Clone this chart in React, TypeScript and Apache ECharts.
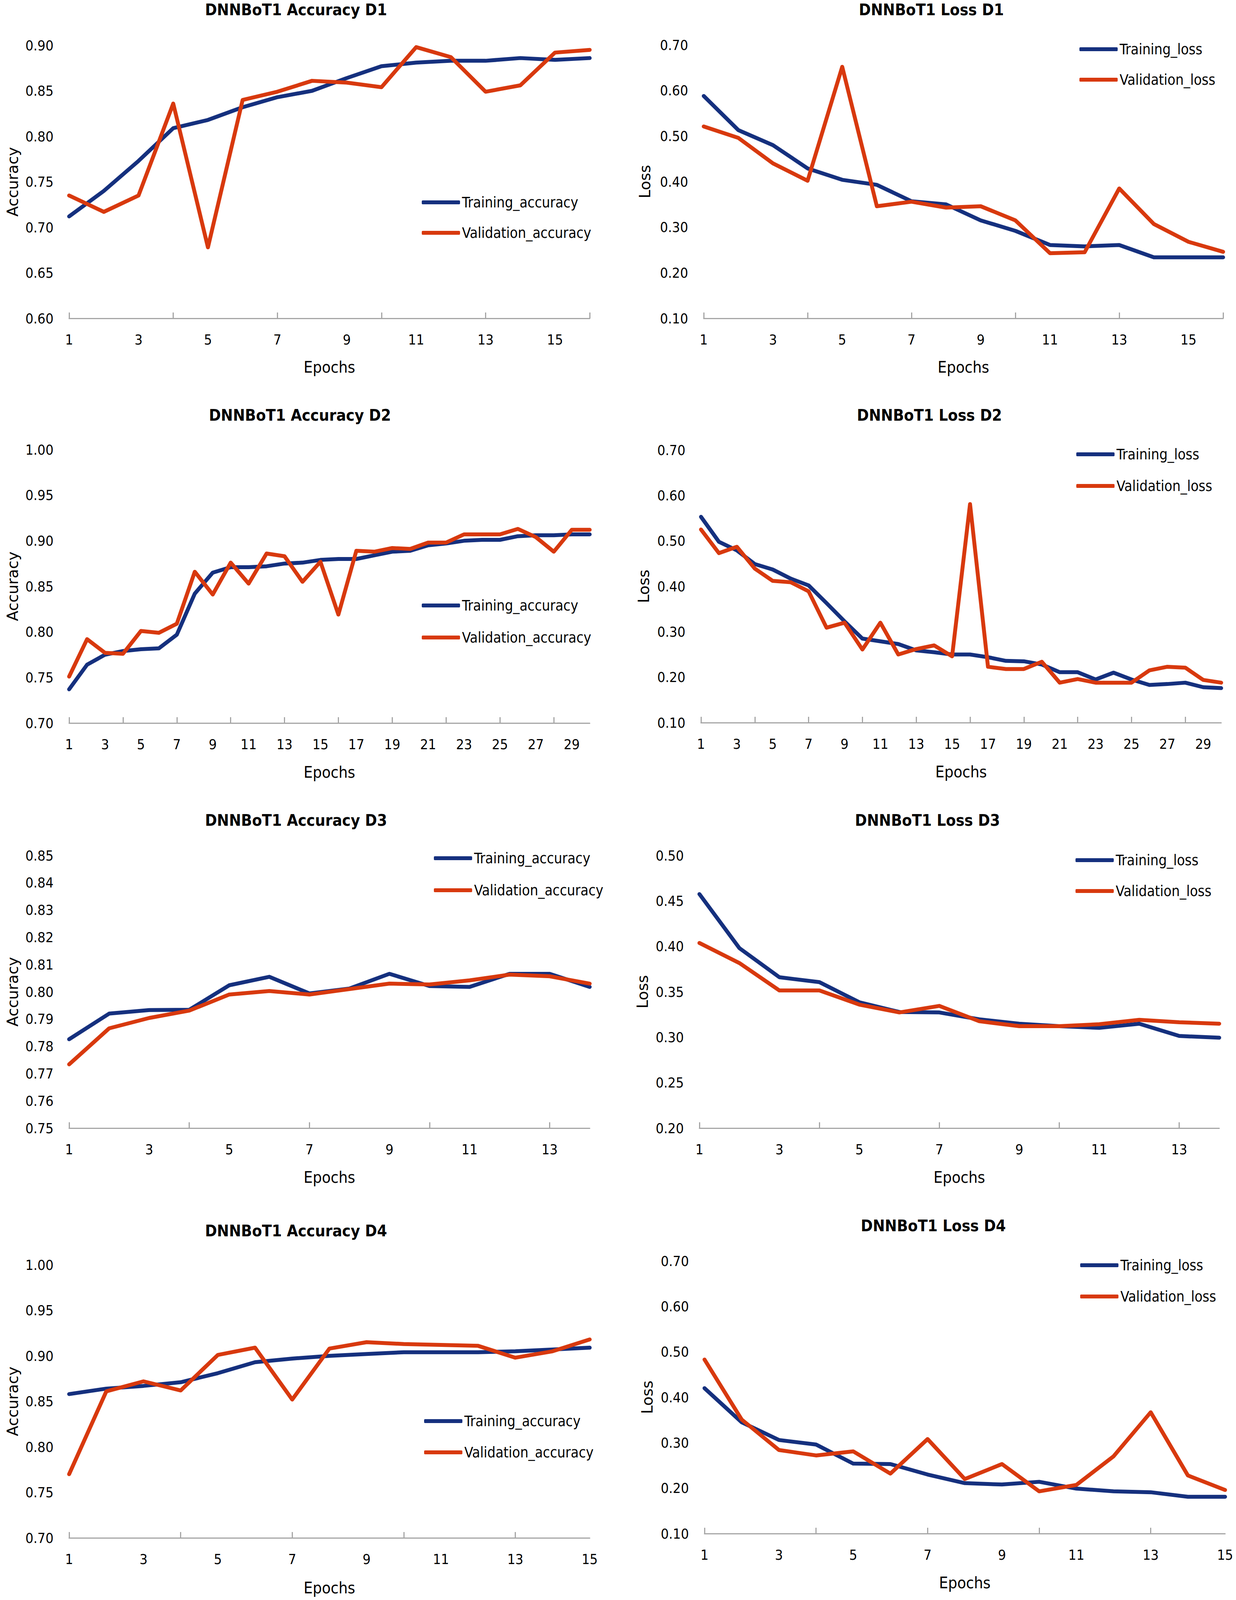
import React, { useEffect, useRef, useState } from "react";
import * as echarts from "echarts";

// ---------- data ----------
const d1Epochs = Array.from({ length: 16 }, (_, i) => String(i + 1));
const d2Epochs = Array.from({ length: 30 }, (_, i) => String(i + 1));
const d3Epochs = Array.from({ length: 14 }, (_, i) => String(i + 1));
const d4Epochs = Array.from({ length: 15 }, (_, i) => String(i + 1));

const d1TrainAcc = [0.712, 0.74, 0.773, 0.809, 0.818, 0.832, 0.843, 0.85, 0.864, 0.877, 0.881, 0.883, 0.883, 0.886, 0.884, 0.886];
const d1ValAcc = [0.735, 0.717, 0.735, 0.836, 0.678, 0.84, 0.849, 0.861, 0.859, 0.854, 0.898, 0.887, 0.849, 0.856, 0.892, 0.895];
const d1TrainLoss = [0.588, 0.513, 0.48, 0.429, 0.404, 0.393, 0.357, 0.35, 0.315, 0.292, 0.261, 0.258, 0.261, 0.234, 0.234, 0.234];
const d1ValLoss = [0.521, 0.496, 0.44, 0.402, 0.652, 0.346, 0.356, 0.343, 0.346, 0.315, 0.243, 0.245, 0.385, 0.307, 0.268, 0.246];

const d2TrainAcc = [0.737, 0.764, 0.775, 0.779, 0.781, 0.782, 0.797, 0.842, 0.865, 0.871, 0.871, 0.872, 0.875, 0.876, 0.879, 0.88, 0.88, 0.884, 0.888, 0.889, 0.895, 0.897, 0.9, 0.901, 0.901, 0.905, 0.906, 0.906, 0.907, 0.907];
const d2ValAcc = [0.751, 0.792, 0.777, 0.776, 0.801, 0.799, 0.809, 0.866, 0.841, 0.876, 0.853, 0.886, 0.883, 0.855, 0.877, 0.819, 0.889, 0.888, 0.892, 0.891, 0.898, 0.898, 0.907, 0.907, 0.907, 0.913, 0.904, 0.888, 0.912, 0.912];
const d2TrainLoss = [0.553, 0.498, 0.479, 0.449, 0.437, 0.417, 0.402, 0.363, 0.323, 0.285, 0.279, 0.273, 0.259, 0.255, 0.25, 0.25, 0.244, 0.236, 0.235, 0.228, 0.211, 0.211, 0.195, 0.21, 0.195, 0.183, 0.185, 0.188, 0.178, 0.176];
const d2ValLoss = [0.525, 0.473, 0.487, 0.439, 0.412, 0.409, 0.389, 0.309, 0.32, 0.261, 0.32, 0.25, 0.262, 0.27, 0.246, 0.581, 0.223, 0.218, 0.218, 0.234, 0.188, 0.196, 0.188, 0.188, 0.188, 0.215, 0.223, 0.221, 0.194, 0.188];

const d3TrainAcc = [0.7826, 0.792, 0.7933, 0.7934, 0.8024, 0.8055, 0.7994, 0.8012, 0.8066, 0.8021, 0.8018, 0.8066, 0.8066, 0.8018];
const d3ValAcc = [0.7734, 0.7866, 0.7904, 0.7931, 0.799, 0.8003, 0.799, 0.801, 0.803, 0.8027, 0.8042, 0.8063, 0.8057, 0.803];
const d3TrainLoss = [0.4575, 0.398, 0.366, 0.3606, 0.3385, 0.3278, 0.3273, 0.3197, 0.3149, 0.3122, 0.3103, 0.3149, 0.3014, 0.2995];
const d3ValLoss = [0.4037, 0.3816, 0.3515, 0.3515, 0.3359, 0.3273, 0.3345, 0.3176, 0.3122, 0.3122, 0.3143, 0.3192, 0.3165, 0.3149];

const d4TrainAcc = [0.858, 0.864, 0.867, 0.871, 0.881, 0.893, 0.897, 0.9, 0.902, 0.904, 0.904, 0.904, 0.905, 0.907, 0.909];
const d4ValAcc = [0.77, 0.861, 0.872, 0.862, 0.901, 0.909, 0.852, 0.908, 0.915, 0.913, 0.912, 0.911, 0.898, 0.905, 0.918];
const d4TrainLoss = [0.42, 0.345, 0.306, 0.296, 0.254, 0.253, 0.23, 0.211, 0.208, 0.214, 0.199, 0.193, 0.191, 0.181, 0.181];
const d4ValLoss = [0.483, 0.351, 0.284, 0.272, 0.281, 0.232, 0.308, 0.22, 0.253, 0.193, 0.207, 0.27, 0.367, 0.228, 0.196];

const titles = [
  "DNNBoT1 Accuracy D1", "DNNBoT1 Loss D1",
  "DNNBoT1 Accuracy D2", "DNNBoT1 Loss D2",
  "DNNBoT1 Accuracy D3", "DNNBoT1 Loss D3",
  "DNNBoT1 Accuracy D4", "DNNBoT1 Loss D4",
];

// ---------- layout / style ----------
const REF_W = 3165;
const REF_H = 4567;
const BLUE = "#15307e";
const RED = "#d8390e";
const AXIS = "#a6a6a6";
const FN = "'DejaVu Sans Condensed', 'Liberation Sans', sans-serif";
const FW = "'DejaVu Sans', sans-serif";

type Panel = {
  epochs: string[];
  train: number[];
  val: number[];
  kind: "acc" | "loss";
  min: number;
  max: number;
  step: number;
  grid: { left: number; top: number; width: number; height: number };
  title: [number, number];
  legend: [number, number, number];
  nameGap: number;
  xNameGap: number;
};

const panels: Panel[] = [
  { epochs: d1Epochs, train: d1TrainAcc, val: d1ValAcc, kind: "acc", min: 0.6, max: 0.9, step: 0.05,
    grid: { left: 177, top: 129, width: 1333, height: 779 }, title: [758, 28], legend: [1080, 578, 665], nameGap: 145, xNameGap: 139 },
  { epochs: d1Epochs, train: d1TrainLoss, val: d1ValLoss, kind: "loss", min: 0.1, max: 0.7, step: 0.1,
    grid: { left: 1802, top: 128, width: 1330, height: 780 }, title: [2385, 28], legend: [2764, 140, 227], nameGap: 151, xNameGap: 139 },
  { epochs: d2Epochs, train: d2TrainAcc, val: d2ValAcc, kind: "acc", min: 0.7, max: 1.0, step: 0.05,
    grid: { left: 177, top: 1283, width: 1333, height: 780 }, title: [768, 1185], legend: [1080, 1728, 1819], nameGap: 145, xNameGap: 141 },
  { epochs: d2Epochs, train: d2TrainLoss, val: d2ValLoss, kind: "loss", min: 0.1, max: 0.7, step: 0.1,
    grid: { left: 1795, top: 1285, width: 1332, height: 778 }, title: [2380, 1185], legend: [2756, 1297, 1387], nameGap: 147, xNameGap: 141 },
  { epochs: d3Epochs, train: d3TrainAcc, val: d3ValAcc, kind: "acc", min: 0.75, max: 0.85, step: 0.01,
    grid: { left: 177, top: 2442, width: 1333, height: 778 }, title: [758, 2342], legend: [1111, 2450, 2541], nameGap: 145, xNameGap: 141 },
  { epochs: d3Epochs, train: d3TrainLoss, val: d3ValLoss, kind: "loss", min: 0.2, max: 0.5, step: 0.05,
    grid: { left: 1791, top: 2442, width: 1331, height: 778 }, title: [2375, 2342], legend: [2754, 2455, 2543], nameGap: 146, xNameGap: 141 },
  { epochs: d4Epochs, train: d4TrainAcc, val: d4ValAcc, kind: "acc", min: 0.7, max: 1.0, step: 0.05,
    grid: { left: 177, top: 3610, width: 1333, height: 779 }, title: [758, 3513], legend: [1086, 4056, 4145], nameGap: 145, xNameGap: 143 },
  { epochs: d4Epochs, train: d4TrainLoss, val: d4ValLoss, kind: "loss", min: 0.1, max: 0.7, step: 0.1,
    grid: { left: 1804, top: 3599, width: 1333, height: 778 }, title: [2390, 3499], legend: [2766, 3611, 3700], nameGap: 147, xNameGap: 141 },
];

function buildOption(sx: number, sy: number) {
  const fs = (sx + sy) / 2;
  const X = (v: number) => Math.round(v * sx);
  const Y = (v: number) => Math.round(v * sy);
  const F = (v: number) => Math.round(v * fs);
  const grid: any[] = [];
  const xAxis: any[] = [];
  const yAxis: any[] = [];
  const series: any[] = [];
  const legend: any[] = [];
  const graphic: any[] = [];

  panels.forEach((p, i) => {
    const trName = p.kind === "acc" ? "Training_accuracy" : "Training_loss";
    const vaName = p.kind === "acc" ? "Validation_accuracy" : "Validation_loss";
    grid.push({
      left: X(p.grid.left), top: Y(p.grid.top),
      width: X(p.grid.width), height: Y(p.grid.height), containLabel: false,
    });
    xAxis.push({
      type: "category",
      gridIndex: i,
      data: p.epochs,
      boundaryGap: false,
      name: "Epochs",
      nameLocation: "middle",
      nameGap: Y(p.xNameGap),
      nameTextStyle: { fontFamily: FN, fontSize: F(43), color: "#000", verticalAlign: "middle" },
      axisLine: { show: true, lineStyle: { color: AXIS, width: F(3) } },
      axisTick: { show: true, inside: true, length: F(16), interval: 2, lineStyle: { color: AXIS, width: F(3) } },
      axisLabel: { interval: 1, fontFamily: FN, fontSize: F(38), color: "#000", margin: Y(40) },
      splitLine: { show: false },
    });
    yAxis.push({
      type: "value",
      gridIndex: i,
      min: p.min,
      max: p.max,
      interval: p.step,
      name: p.kind === "acc" ? "Accuracy" : "Loss",
      nameLocation: "middle",
      nameRotate: 90,
      nameGap: X(p.nameGap),
      nameTextStyle: { fontFamily: FW, fontSize: F(41), color: "#000", align: "center", verticalAlign: "middle" },
      axisLine: { show: false },
      axisTick: { show: false },
      splitLine: { show: false },
      axisLabel: {
        fontFamily: FN, fontSize: F(38), color: "#000", margin: X(40),
        formatter: (v: number) => v.toFixed(2),
      },
    });
    const lineBase = { width: F(11), cap: "round", join: "round" };
    series.push({
      type: "line", name: trName, xAxisIndex: i, yAxisIndex: i, data: p.train,
      showSymbol: false, symbol: "none", color: BLUE,
      lineStyle: { ...lineBase, color: BLUE }, itemStyle: { color: BLUE },
    });
    series.push({
      type: "line", name: vaName, xAxisIndex: i, yAxisIndex: i, data: p.val,
      showSymbol: false, symbol: "none", color: RED,
      lineStyle: { ...lineBase, color: RED }, itemStyle: { color: RED },
    });
    const [lx, ty, vy] = p.legend;
    const lh = F(44);
    legend.push({
      left: X(lx), top: Y(ty) - lh / 2, orient: "vertical", padding: 0,
      itemWidth: X(98), itemHeight: F(11), itemGap: Y(vy - ty) - lh, icon: "roundRect",
      selectedMode: false,
      textStyle: { fontFamily: FN, fontSize: F(39), lineHeight: lh, color: "#000" },
      data: [trName, vaName],
    });
    graphic.push({
      type: "text", x: X(p.title[0]), y: Y(p.title[1]),
      style: { text: titles[i], fill: "#000", font: `bold ${F(43)}px ${FN}`, align: "center", verticalAlign: "middle" },
    });
  });

  return { animation: false, backgroundColor: "#fff", grid, xAxis, yAxis, series, legend, graphic };
}

export default function App() {
  const ref = useRef<HTMLDivElement>(null);
  const [size] = useState(() => {
    const w = document.documentElement.clientWidth || window.innerWidth || REF_W;
    const h = document.documentElement.clientHeight || window.innerHeight || REF_H;
    return { w, h };
  });
  useEffect(() => {
    if (!ref.current) return;
    const chart = echarts.init(ref.current, undefined, { renderer: "svg", width: size.w, height: size.h });
    chart.setOption(buildOption(size.w / REF_W, size.h / REF_H) as any);
    return () => chart.dispose();
  }, [size]);
  return (
    <div
      ref={ref}
      style={{ position: "absolute", left: 0, top: 0, width: size.w, height: size.h, background: "#fff", overflow: "hidden" }}
    />
  );
}
